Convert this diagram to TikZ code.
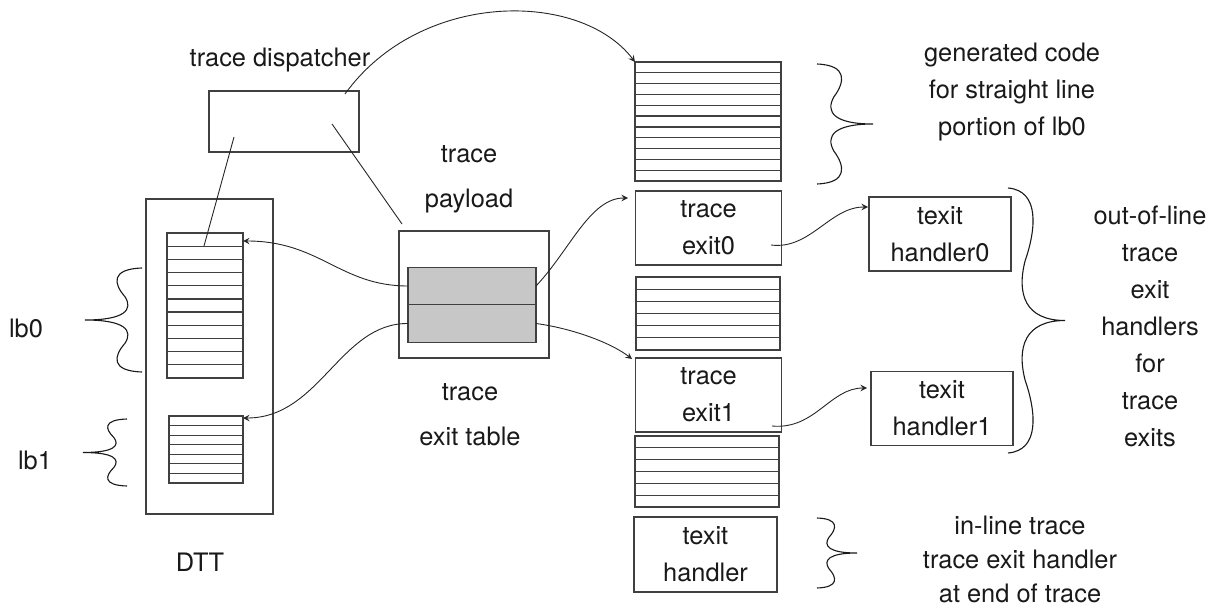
\documentclass[tikz,border=0pt]{standalone}
\usepackage{fontspec}
\setmainfont{TeX Gyre Heros}
\usetikzlibrary{calc}

\newcommand{\curly}[4]{%
  \pgfmathsetmacro{\brw}{#3-#1}
  \pgfmathsetmacro{\brm}{(#2+#4)/2}
  \pgfmathsetmacro{\brh}{\brm-#2}
  \draw[brc] (#1,#2)
    .. controls ({#1+0.55*\brw},{#2+0.02*\brh}) and ({#1+0.5*\brw},{#2+0.3*\brh}) .. ({#1+0.3*\brw},{#2+0.55*\brh})
    .. controls ({#1+0.15*\brw},{#2+0.8*\brh})  and ({#1+0.3*\brw},\brm)         .. (#3,\brm)
    .. controls ({#1+0.3*\brw},\brm)           and ({#1+0.15*\brw},{#4-0.8*\brh}) .. ({#1+0.3*\brw},{#4-0.55*\brh})
    .. controls ({#1+0.5*\brw},{#4-0.3*\brh})  and ({#1+0.55*\brw},{#4-0.02*\brh}) .. (#1,#4);
}

\begin{document}
\begin{tikzpicture}[x=0.5pt, y=-0.5pt,
    every node/.style={inner sep=0pt, outer sep=0pt},
    txt/.style={font=\fontsize{12.7}{18.5}\selectfont, align=center, text=black!90},
    wide/.style={font=\fontsize{12.7}{22.3}\selectfont, align=center, text=black!90},
    stack/.style={draw=black!75, line width=0.6pt},
    box/.style={stack, txt, minimum width=73pt, minimum height=37pt},
    entry/.style={stack, fill=black!22, minimum width=64pt, minimum height=18.75pt},
    conn/.style={black!85, line width=0.45pt},
    arr/.style={conn, -stealth},
    brc/.style={black!90, line width=0.55pt}]

  \useasboundingbox (0,0) rectangle (1219,609);

  \node[stack, minimum width=75pt,   minimum height=30.5pt]  (disp)      at (284,121.5)   {};
  \node[stack, minimum width=63.5pt, minimum height=157.5pt] (dtt)       at (209.5,356.5) {};
  \node[stack, minimum width=38pt,   minimum height=72.5pt]  (lbzero)    at (205,305.5)   {};
  \node[stack, minimum width=37pt,   minimum height=33.5pt]  (lbone)     at (206,449.5)   {};
  \node[stack, minimum width=75pt,   minimum height=63.5pt]  (payload)   at (474,294.5)   {};
  \node[entry]                                               (entzero)   at (472,286)     {};
  \node[entry]                                               (entone)    at (472,323.5)   {};
  \node[stack, minimum width=73pt,   minimum height=59.5pt]  (code)      at (708,121.5)   {};
  \node[box]                                                 (exitzero)  at (708.5,228)   {trace\\exit0};
  \node[stack, minimum width=72pt,   minimum height=36.5pt]  (midstack)  at (708,313.5)   {};
  \node[box]                                                 (exitone)   at (708.5,395)   {trace\\exit1};
  \node[stack, minimum width=72pt,   minimum height=35.5pt]  (lowstack)  at (707,471.5)   {};
  \node[box,   minimum width=71.5pt, minimum height=37.5pt]  (inhandler) at (705.5,554.5) {texit\\handler};
  \node[box,   minimum width=71pt]                           (hzero)     at (940,234)     {texit\\handler0};
  \node[box,   minimum width=71pt]                           (hone)      at (942,408.5)   {texit\\handler1};

  \foreach \s/\n/\h in {lbzero/10/13.18, lbone/6/9.57, code/10/10.82, midstack/5/12.17, lowstack/5/11.83}
    \foreach \i in {1,...,\n}
      \draw[stack] ($(\s.north west)+(0,\i*\h)$) -- ($(\s.north east)+(0,\i*\h)$);

  \node[txt]  (tdlbl)  at (280,60)    {trace dispatcher};
  \node[wide] (pllbl)  at (469,179)   {trace\\payload};
  \node[wide] (etlbl)  at (470,414.5) {trace\\exit table};
  \node[txt]  (dttlbl) at (200,562)   {DTT};
  \node[txt]  (lbzlbl) at (26,328)    {lb0};
  \node[txt]  (lbolbl) at (35,460)    {lb1};
  \node[txt]  (gclbl)  at (1012,92)   {generated code\\for straight line\\portion of lb0};
  \node[txt]  (oollbl) at (1150,326)  {out-of-line\\trace\\exit\\handlers\\for\\trace\\exits};
  \node[txt, font=\fontsize{12.7}{17}\selectfont] (illbl) at (1020,559)
    {in-line trace\\trace exit handler\\at end of trace};

  \coordinate (dispa)  at (345,94);
  \coordinate (dispb)  at (234,137);
  \coordinate (dispc)  at (332,124);
  \coordinate (lbzin)  at (204,246);
  \coordinate (plin)   at (402,224);
  \coordinate (lbzarr) at (243,241);
  \coordinate (lboarr) at (243,418);
  \coordinate (exzin)  at (628,198);
  \coordinate (exoin)  at (632,359);
  \coordinate (exzout) at (771,245);
  \coordinate (exoout) at (772,426);
  \coordinate (hzin)   at (868,207);
  \coordinate (hoin)   at (867,388);

  \draw[arr]  (dispa) .. controls (420,-10) and (580,-10) .. (code.north west);
  \draw[conn] (dispb) -- (lbzin);
  \draw[conn] (dispc) -- (plin);
  \draw[arr]  (entzero.west) .. controls (340,286) and (320,241) .. (lbzarr);
  \draw[arr]  (entone.west)  .. controls (340,323) and (320,418) .. (lboarr);
  \draw[arr]  (entzero.east) .. controls (570,250) and (590,198) .. (exzin);
  \draw[arr]  (entone.east)  .. controls (570,328) and (610,342) .. (exoin);
  \draw[arr]  (exzout) .. controls (810,250) and (830,207) .. (hzin);
  \draw[arr]  (exoout) .. controls (815,430) and (830,388) .. (hoin);

  \curly{817}{64}{873}{184}
  \curly{142}{268}{85}{372}
  \curly{127}{419}{83}{486}
  \curly{1008}{188}{1065}{453}
  \curly{817}{518}{857}{588}

\end{tikzpicture}
\end{document}
